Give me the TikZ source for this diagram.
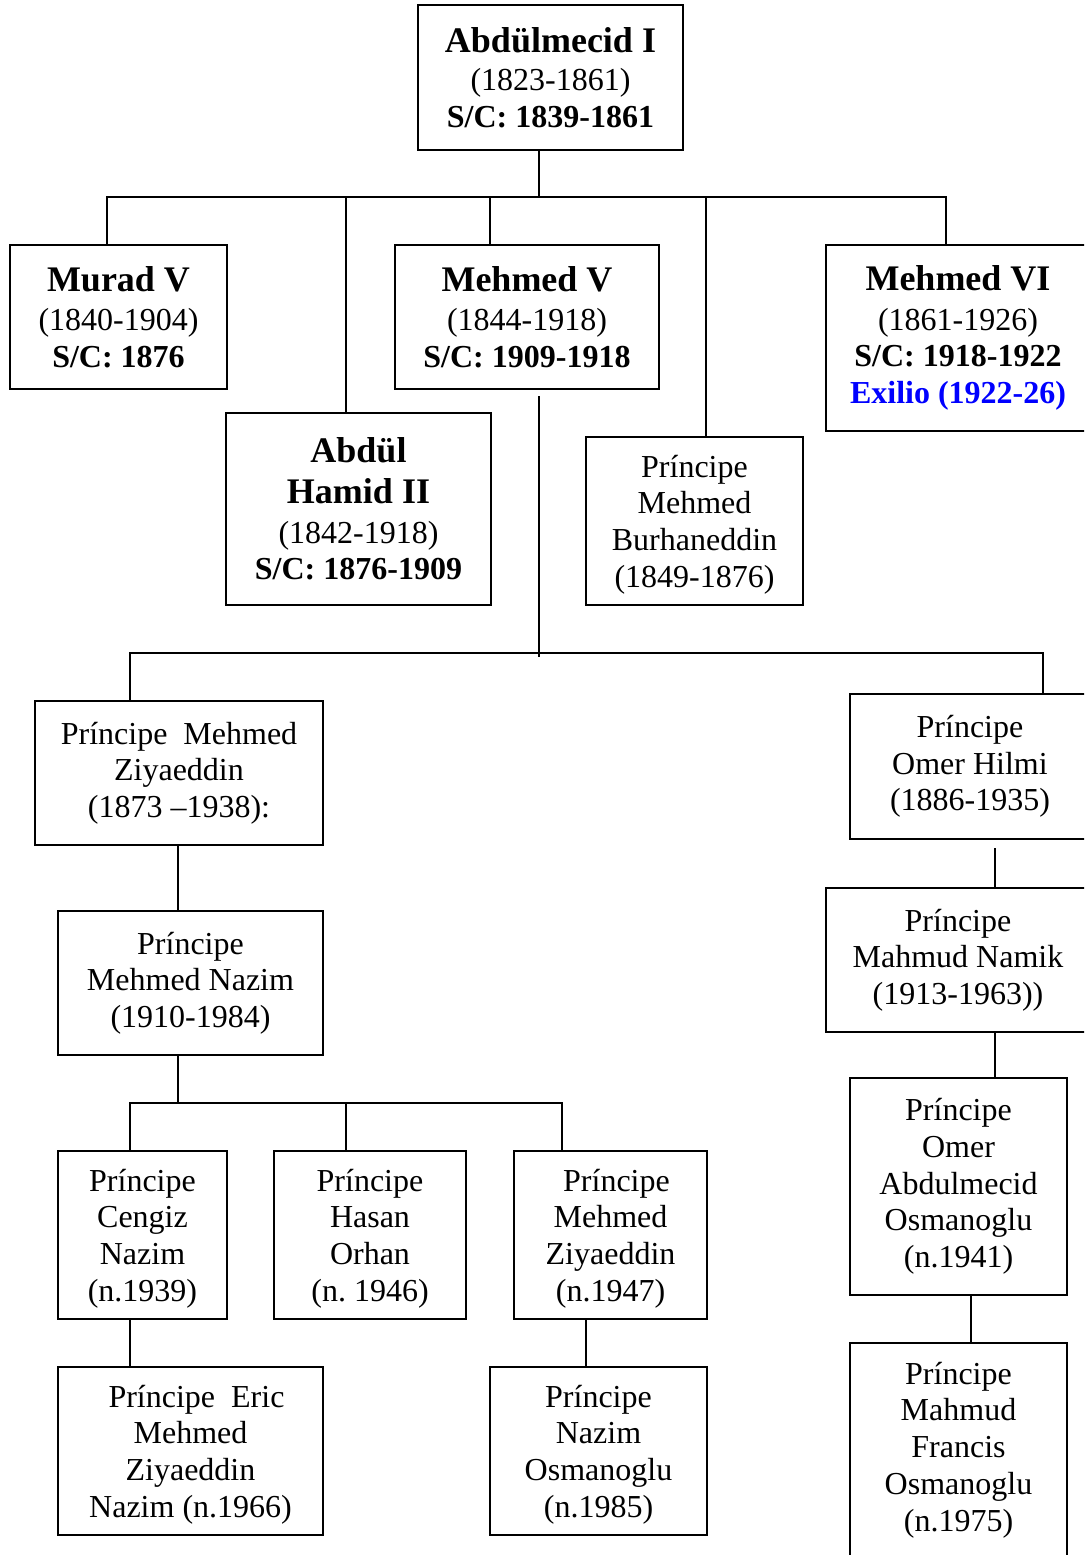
\documentclass[tikz,border=0pt]{standalone}
\usepackage{fontspec}
\setmainfont{Liberation Serif}
\definecolor{exblue}{RGB}{0,0,255}
\newcommand\TitleTxt[1]{{\fontsize{18}{21}\selectfont\bfseries #1}}
\newcommand\SCtxt[1]{{\bfseries #1}}
\tikzset{
  box/.style={draw, line width=1.4pt, rectangle, inner sep=0pt, align=center,
              font=\fontsize{16}{18.35}\selectfont},
  fourline/.style={text depth=0pt},
  conn/.style={line width=1.4pt}
}
\begin{document}
\begin{tikzpicture}[x=0.5pt,y=-0.5pt]
\useasboundingbox (0,0) rectangle (1084,1555);
\fill[white] (0,0) rectangle (1084,1555);
\clip (0,0) rectangle (1084,1555);

% generation 1
\node[box, minimum width=132.5pt, minimum height=72.5pt] (abd) at (550.5,77.5)
  {\TitleTxt{Abdülmecid I}\\[0.8pt](1823-1861)\\\SCtxt{S/C: 1839-1861}};

% generation 2
\node[box, minimum width=108.5pt, minimum height=72pt] (murad) at (118.5,317)
  {\TitleTxt{Murad V}\\[1.2pt](1840-1904)\\\SCtxt{S/C: 1876}};
\node[box, minimum width=132pt, minimum height=72pt] (mv) at (527,317)
  {\TitleTxt{Mehmed V}\\[1.2pt](1844-1918)\\\SCtxt{S/C: 1909-1918}};
\node[box, minimum width=132pt, minimum height=93pt] (mvi) at (958,338)
  {\TitleTxt{Mehmed VI}\\[1.5pt](1861-1926)\\\SCtxt{S/C: 1918-1922}\\{\color{exblue}\bfseries Exilio (1922-26)}};
\node[box, minimum width=132.5pt, minimum height=96pt] (hamid) at (358.5,509)
  {\TitleTxt{Abdül}\\[2.2pt]\TitleTxt{Hamid II}\\[1.2pt](1842-1918)\\\SCtxt{S/C: 1876-1909}};
\node[box, fourline, minimum width=108.5pt, minimum height=84pt] (burh) at (694.5,521)
  {Príncipe\\Mehmed\\Burhaneddin\\(1849-1876)};

% generation 3
\node[box, minimum width=144pt, minimum height=72pt] (ziya) at (179,773)
  {Príncipe~ Mehmed\\Ziyaeddin\\(1873 –1938):};
\node[box, minimum width=120pt, minimum height=72.5pt] (omerh) at (970,766.5)
  {Príncipe\\Omer Hilmi\\(1886-1935)};

% generation 4
\node[box, minimum width=132.5pt, minimum height=72pt] (nazim) at (190.5,983)
  {Príncipe\\Mehmed Nazim\\(1910-1984)};
\node[box, minimum width=132pt, minimum height=72pt] (namik) at (958,960)
  {Príncipe\\Mahmud Namik\\(1913-1963))};

% generation 5
\node[box, fourline, minimum width=84.5pt, minimum height=84pt] (cengiz) at (142.5,1235)
  {Príncipe\\Cengiz\\Nazim\\(n.1939)};
\node[box, fourline, minimum width=96pt, minimum height=84pt] (hasan) at (370,1235)
  {Príncipe\\Hasan\\Orhan\\(n.\ 1946)};
\node[box, fourline, minimum width=96.5pt, minimum height=84pt] (mziya) at (610.5,1235)
  {\hspace*{6pt}Príncipe\\Mehmed\\Ziyaeddin\\(n.1947)};
\node[box, minimum width=108.5pt, minimum height=108.5pt] (omera) at (958.5,1186.5)
  {Príncipe\\Omer\\Abdulmecid\\Osmanoglu\\(n.1941)};

% generation 6
\node[box, fourline, minimum width=132.5pt, minimum height=84pt] (eric) at (190.5,1451)
  {\hspace*{6pt}Príncipe~ Eric\\Mehmed\\Ziyaeddin\\Nazim (n.1966)};
\node[box, fourline, minimum width=108.5pt, minimum height=84pt] (nosm) at (598.5,1451)
  {Príncipe\\Nazim\\Osmanoglu\\(n.1985)};
\node[box, minimum width=108.5pt, minimum height=111pt, text depth=7.5pt] (francis) at (958.5,1454)
  {Príncipe\\Mahmud\\Francis\\Osmanoglu\\(n.1975)};

% junction coordinates
\coordinate (j1) at (539,197);
\coordinate (b1L) at (107,197);
\coordinate (b1R) at (946,197);
\coordinate (d1h) at (346,197);
\coordinate (d1m) at (490,197);
\coordinate (d1b) at (706,197);
\coordinate (j2) at (539,653);
\coordinate (b2L) at (130,653);
\coordinate (b2R) at (1043,653);
\coordinate (xz) at (178,0);
\coordinate (j3) at (178,1103);
\coordinate (b3L) at (130,1103);
\coordinate (b3M) at (346,1103);
\coordinate (b3R) at (562,1103);
\coordinate (xn) at (586,0);
\coordinate (xr1) at (995,0);
\coordinate (xr2) at (971,0);

% connectors: Abdulmecid I
\draw[conn] (abd.south -| j1) -- (j1);
\draw[conn] (b1L |- murad.north) -- (b1L) -- (b1R) -- (b1R |- mvi.north);
\draw[conn] (d1h) -- (d1h |- hamid.north);
\draw[conn] (d1m) -- (d1m |- mv.north);
\draw[conn] (d1b) -- (d1b |- burh.north);

% Mehmed V
\draw[conn] ([yshift=-3pt]mv.south -| j2) -- ([yshift=-2pt]j2);
\draw[conn] (b2L |- ziya.north) -- (b2L) -- (b2R) -- (b2R |- omerh.north);

% left branch
\draw[conn] (ziya.south -| xz) -- (nazim.north -| xz);
\draw[conn] (nazim.south -| j3) -- (j3);
\draw[conn] (b3L |- cengiz.north) -- (b3L) -- (b3R) -- (b3R |- mziya.north);
\draw[conn] (b3M) -- (b3M |- hasan.north);
\draw[conn] (cengiz.south -| b3L) -- (eric.north -| b3L);
\draw[conn] (mziya.south -| xn) -- (nosm.north -| xn);

% right branch
\draw[conn] ([yshift=-4pt]omerh.south -| xr1) -- (namik.north -| xr1);
\draw[conn] (namik.south -| xr1) -- (omera.north -| xr1);
\draw[conn] (omera.south -| xr2) -- (francis.north -| xr2);
\end{tikzpicture}
\end{document}
